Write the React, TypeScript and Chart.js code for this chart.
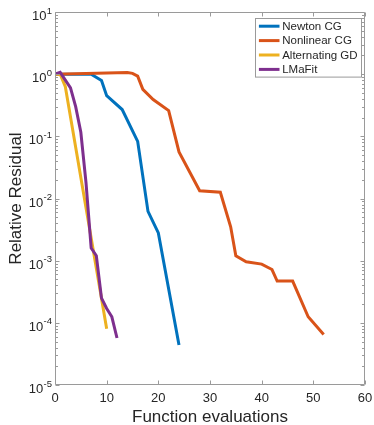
import React, { useEffect, useRef } from 'react';
import { Chart, registerables } from 'chart.js';

Chart.register(...registerables);

// ---- data ----
const SERIES_LABELS = ['Newton CG', 'Nonlinear CG', 'Alternating GD', 'LMaFit'];
const SERIES_COLORS = ['#0072BD', '#D95319', '#EDB120', '#7E2F8E'];

const newtonX = [0, 7, 9, 10, 13, 16, 18, 20, 24];
const newtonY = [1.0, 1.0, 0.79, 0.45, 0.27, 0.083, 0.0062, 0.0028, 4.4e-5];

const nlcgX = [0, 14, 15, 16, 17, 19, 22, 24, 28, 32, 34, 35, 37, 40, 42, 43, 46, 49, 52];
const nlcgY = [1.0, 1.06, 1.03, 0.93, 0.57, 0.39, 0.26, 0.056, 0.0133, 0.0126, 0.0035, 0.0012, 0.00096, 0.00088, 0.00072, 0.00047, 0.00047, 0.000125, 6.5e-5];

const altgdX = [0, 1, 2, 10];
const altgdY = [1.0, 1.0, 0.63, 8e-5];

const lmafitX = [0, 1, 3, 4, 5, 6, 7, 8, 9, 10, 11, 12];
const lmafitY = [1.0, 1.07, 0.6, 0.3, 0.116, 0.018, 0.0016, 0.0012, 0.00025, 0.00017, 0.000125, 5.7e-5];

const X_TICKS = [0, 10, 20, 30, 40, 50, 60];
const Y_EXPONENTS = [-5, -4, -3, -2, -1, 0, 1];
const X_TITLE = 'Function evaluations';
const Y_TITLE = 'Relative Residual';

const FONT = '"Liberation Sans", Arial, Helvetica, sans-serif';
const AXIS_COLOR = '#9a9a9a';
const TEXT_COLOR = '#262626';

function pts(xs: number[], ys: number[]) {
  return xs.map((x, i) => ({ x, y: ys[i] }));
}

const axesPlugin = {
  id: 'matlabAxes',
  afterDraw(chart: any) {
    const { ctx, chartArea: a, scales } = chart;
    const xs = scales.x;
    const ys = scales.y;
    const L = Math.round(a.left) + 0.5;
    const R = Math.round(a.right) - 0.5;
    const T = Math.round(a.top) + 0.5;
    const B = Math.round(a.bottom) - 0.5;
    ctx.save();
    ctx.strokeStyle = AXIS_COLOR;
    ctx.lineWidth = 1;
    ctx.beginPath();
    ctx.rect(L, T, R - L, B - T);
    ctx.stroke();

    // x ticks
    ctx.beginPath();
    X_TICKS.forEach((v) => {
      const px = Math.round(xs.getPixelForValue(v)) + 0.5;
      ctx.moveTo(px, B);
      ctx.lineTo(px, B - 4);
      ctx.moveTo(px, T);
      ctx.lineTo(px, T + 4);
    });
    // y ticks (major + minor)
    Y_EXPONENTS.forEach((e) => {
      const py = Math.round(ys.getPixelForValue(Math.pow(10, e))) + 0.5;
      ctx.moveTo(L, py);
      ctx.lineTo(L + 4, py);
      ctx.moveTo(R, py);
      ctx.lineTo(R - 4, py);
      if (e < Y_EXPONENTS[Y_EXPONENTS.length - 1]) {
        for (let m = 2; m <= 9; m++) {
          const my = Math.round(ys.getPixelForValue(m * Math.pow(10, e))) + 0.5;
          ctx.moveTo(L, my);
          ctx.lineTo(L + 2.5, my);
          ctx.moveTo(R, my);
          ctx.lineTo(R - 2.5, my);
        }
      }
    });
    ctx.stroke();

    // x tick labels
    ctx.fillStyle = TEXT_COLOR;
    ctx.font = `13px ${FONT}`;
    ctx.textAlign = 'center';
    ctx.textBaseline = 'alphabetic';
    X_TICKS.forEach((v) => {
      ctx.fillText(String(v), xs.getPixelForValue(v), a.bottom + 16.5);
    });

    // y tick labels: 10 with superscript exponent
    Y_EXPONENTS.forEach((e) => {
      const py = ys.getPixelForValue(Math.pow(10, e));
      const expStr = String(e);
      ctx.font = `9.5px ${FONT}`;
      ctx.textAlign = 'right';
      const ew = ctx.measureText(expStr).width;
      const right = a.left - 3;
      ctx.fillText(expStr, right, py + 1.5);
      ctx.font = `13px ${FONT}`;
      ctx.fillText('10', right - ew - 0.3, py + 8);
    });

    // axis titles
    ctx.font = `17px ${FONT}`;
    ctx.textAlign = 'center';
    ctx.fillText(X_TITLE, (a.left + a.right) / 2, a.bottom + 36.5);
    ctx.save();
    ctx.translate(20.5, (a.top + a.bottom) / 2);
    ctx.rotate(-Math.PI / 2);
    ctx.fillText(Y_TITLE, 0, 0);
    ctx.restore();

    // legend
    ctx.font = `11.5px ${FONT}`;
    const datasets = chart.data.datasets;
    let maxW = 0;
    datasets.forEach((d: any) => {
      maxW = Math.max(maxW, ctx.measureText(d.label).width);
    });
    const boxW = 26.7 + maxW + 4;
    const rowH = 14.4;
    const firstRow = 7.7;
    const boxH = firstRow * 2 + rowH * (datasets.length - 1);
    const boxR = Math.round(a.right - 4.5) + 0.5;
    const boxL = Math.round(boxR - boxW) + 0.5;
    const boxT = Math.round(a.top + 5.5) + 0.5;
    ctx.fillStyle = '#ffffff';
    ctx.fillRect(boxL, boxT, boxR - boxL, boxH);
    ctx.strokeStyle = AXIS_COLOR;
    ctx.lineWidth = 1;
    ctx.strokeRect(boxL, boxT, boxR - boxL, boxH);
    ctx.textAlign = 'left';
    ctx.textBaseline = 'middle';
    datasets.forEach((d: any, i: number) => {
      const cy = boxT + firstRow + i * rowH;
      ctx.strokeStyle = d.borderColor;
      ctx.lineWidth = 3;
      ctx.beginPath();
      ctx.moveTo(boxL + 3.4, cy);
      ctx.lineTo(boxL + 24, cy);
      ctx.stroke();
      ctx.fillStyle = TEXT_COLOR;
      ctx.fillText(d.label, boxL + 26.7, cy + 0.5);
    });
    ctx.restore();
  },
};

export default function App() {
  const ref = useRef<HTMLCanvasElement>(null);
  useEffect(() => {
    if (!ref.current) return;
    const seriesX = [newtonX, nlcgX, altgdX, lmafitX];
    const seriesY = [newtonY, nlcgY, altgdY, lmafitY];
    const chart = new Chart(ref.current, {
      type: 'line',
      data: {
        datasets: SERIES_LABELS.map((label, i) => ({
          label,
          data: pts(seriesX[i], seriesY[i]),
          borderColor: SERIES_COLORS[i],
          backgroundColor: SERIES_COLORS[i],
          borderWidth: 3,
          pointRadius: 0,
          fill: false,
          tension: 0,
          order: SERIES_LABELS.length - i,
        })),
      },
      options: {
        animation: false,
        responsive: false,
        events: [],
        layout: { padding: { top: 12, right: 9, left: 0, bottom: 0 } },
        plugins: { legend: { display: false }, tooltip: { enabled: false } },
        scales: {
          x: {
            type: 'linear',
            min: 0,
            max: 60,
            grid: { display: false },
            border: { display: false },
            ticks: { display: false },
            afterFit: (s: any) => {
              s.height = 40;
            },
          },
          y: {
            type: 'logarithmic',
            min: 1e-5,
            max: 10,
            grid: { display: false },
            border: { display: false },
            ticks: { display: false },
            afterFit: (s: any) => {
              s.width = 55;
            },
          },
        },
      } as any,
      plugins: [axesPlugin],
    });
    return () => chart.destroy();
  }, []);
  return (
    <div style={{ position: 'absolute', left: 0, top: 0, width: 374, height: 425, background: '#fff' }}>
      <canvas ref={ref} width={374} height={425} style={{ display: 'block' }} />
    </div>
  );
}
